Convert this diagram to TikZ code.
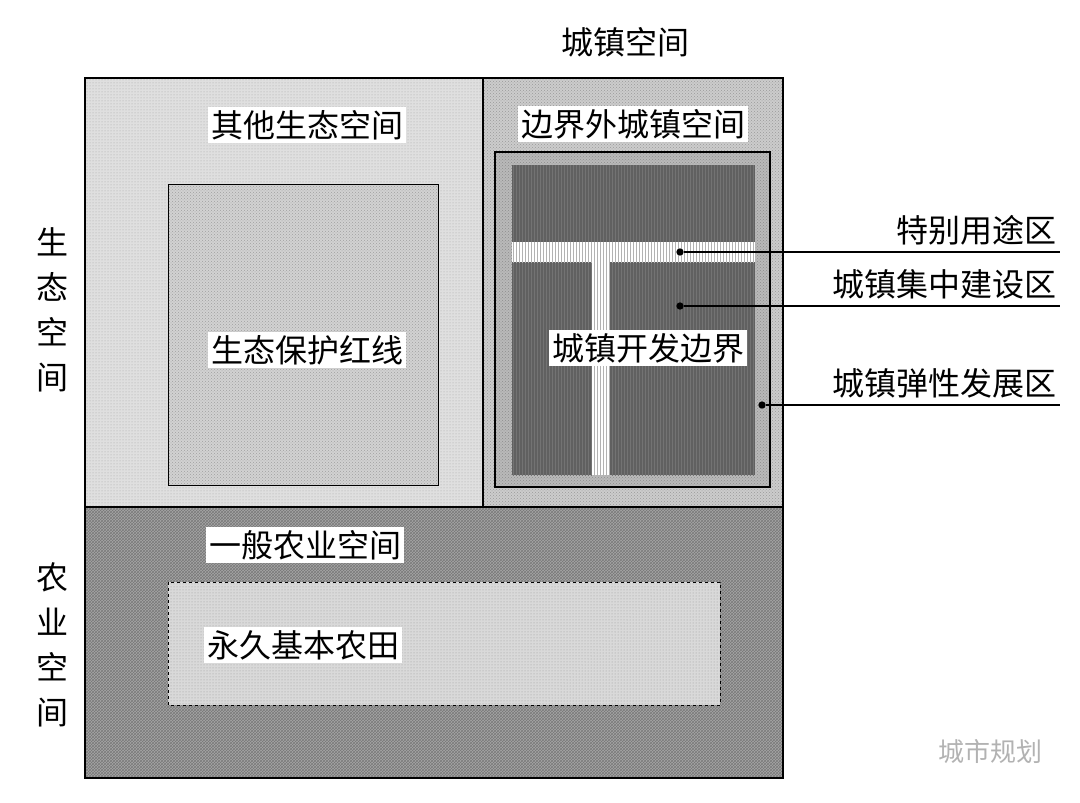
\documentclass[tikz,border=0pt]{standalone}
\usepackage{fontspec}
\setmainfont{Noto Sans CJK SC}
\usetikzlibrary{patterns}
\tikzset{
  lbl/.style={fill=white, inner sep=3pt, font=\fontsize{32}{36}\selectfont},
  side/.style={font=\fontsize{32}{36}\selectfont, inner sep=1pt},
  vlbl/.style={font=\fontsize{32}{45}\selectfont, align=center},
  pin/.style={line width=1.3pt},
  dot/.style={circle, fill=black, inner sep=2.6pt},
}
\begin{document}
\begin{tikzpicture}[x=1pt, y=-1pt]
    \useasboundingbox (0,0) rectangle (1080,803);
    % spaces
    \fill[gray!25] (85,78) rectangle (483,507);
    \fill[pattern=dots, pattern color=gray!70] (85,78) rectangle (483,507);
    \fill[gray!40] (483,78) rectangle (783,507);
    \fill[pattern=crosshatch dots, pattern color=gray!80] (483,78) rectangle (783,507);
    \fill[gray!70] (85,507) rectangle (783,778);
    \fill[pattern=crosshatch, pattern color=gray!95!black] (85,507) rectangle (783,778);
    % red line and farmland
    \fill[gray!35] (168,184) rectangle (438,485);
    \fill[pattern=crosshatch dots, pattern color=gray!75] (168,184) rectangle (438,485);
    \draw[line width=1pt] (168,184) rectangle (438,485);
    \fill[gray!30] (168,582) rectangle (720,705);
    \fill[pattern=dots, pattern color=gray!80] (168,582) rectangle (720,705);
    \draw[dashed] (168,582) rectangle (720,705);
    % development boundary
    \fill[gray!55] (495,152) rectangle (770,487);
    \fill[pattern=crosshatch dots, pattern color=gray!90] (495,152) rectangle (770,487);
    \fill[gray!75!black] (512,165) rectangle (755,475);
    \fill[pattern=vertical lines, pattern color=gray!90!black] (512,165) rectangle (755,475);
    \fill[white] (512,242) rectangle (755,262);
    \fill[white] (592,262) rectangle (610,475);
    \fill[pattern=vertical lines, pattern color=gray!60] (512,242) rectangle (755,262);
    \fill[pattern=vertical lines, pattern color=gray!60] (592,262) rectangle (610,475);
    \draw[line width=1.5pt] (495,152) rectangle (770,487);
    % frames
    \draw[line width=1.5pt] (85,78) rectangle (783,778);
    \draw[line width=1.2pt] (85,507) -- (783,507);
    \draw[line width=1.2pt] (483,78) -- (483,507);
    % labels
    \node[lbl] (eco) at (307,125) {其他生态空间};
    \node[lbl] (out) at (633,124) {边界外城镇空间};
    \node[lbl] (red) at (307,350) {生态保护红线};
    \node[lbl] (dev) at (648,348) {城镇开发边界};
    \node[lbl] (agr) at (305,545) {一般农业空间};
    \node[lbl] (farm) at (303,645) {永久基本农田};
    \node[side] (town) at (625,42) {城镇空间};
    \node[vlbl] (ecosp) at (52,310) {生\\态\\空\\间};
    \node[vlbl] (agrsp) at (52,645) {农\\业\\空\\间};
    % pins
    \node[dot] (d1) at (680,252) {};
    \node[dot] (d2) at (680,306) {};
    \node[dot] (d3) at (762,405) {};
    \coordinate (e1) at (1060,252);
    \coordinate (e2) at (1060,306);
    \coordinate (e3) at (1060,405);
    \draw[pin] (d1) -- (e1);
    \draw[pin] (d2) -- (e2);
    \draw[pin] (d3) -- (e3);
    \node[side, anchor=south east] (t1) at (1058,246) {特别用途区};
    \node[side, anchor=south east] (t2) at (1058,300) {城镇集中建设区};
    \node[side, anchor=south east] (t3) at (1058,399) {城镇弹性发展区};
    % watermark
    \node[side, text=gray!60, font=\fontsize{26}{28}\selectfont] (wm) at (990,752) {城市规划};
\end{tikzpicture}
\end{document}
